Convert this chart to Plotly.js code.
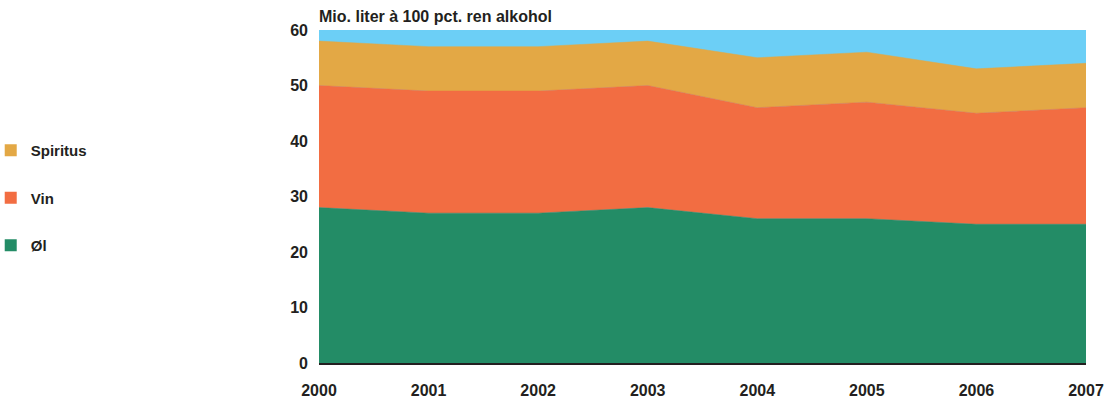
<!DOCTYPE html>
<html>
<head>
<meta charset="utf-8">
<script src="https://cdn.plot.ly/plotly-3.0.1.min.js"></script>
<style>html,body{margin:0;padding:0;background:#fff;}#chart{width:1115px;height:401px;}</style>
</head>
<body>
<div id="chart"></div>
<script>
const years = [2000, 2001, 2002, 2003, 2004, 2005, 2006, 2007];
const ol = [28, 27, 27, 28, 26, 26, 25, 25];
const vin = [22, 22, 22, 22, 20, 21, 20, 21];
const spiritus = [8, 8, 8, 8, 9, 9, 8, 8];
const yTicks = [0, 10, 20, 30, 40, 50, 60];
const seriesNames = ['Øl', 'Vin', 'Spiritus'];
const seriesColors = ['#238c66', '#f26d42', '#e3a845'];

const FONT = '"Liberation Sans Narrow", "Arial Narrow", "Liberation Sans", Arial, sans-serif';
const TXT = '#231f20';

function area(name, y, color) {
  return {
    x: years, y: y, name: name, type: 'scatter', mode: 'lines',
    stackgroup: 'one', fillcolor: color, line: {color: color, width: 0.5},
    showlegend: false, hoverinfo: 'skip'
  };
}
function legendEntry(name, color) {
  return {
    x: [null], y: [null], name: name, type: 'scatter', mode: 'markers',
    marker: {symbol: 'square', size: 12, color: color},
    legendgroup: name, showlegend: true, hoverinfo: 'skip'
  };
}
const values = [ol, vin, spiritus];
const data = [];
for (let i = 0; i < 3; i++) data.push(area(seriesNames[i], values[i], seriesColors[i]));
for (let i = 2; i >= 0; i--) data.push(legendEntry(seriesNames[i], seriesColors[i]));

const layout = {
  width: 1115, height: 401,
  margin: {l: 319, r: 29, t: 30, b: 38, autoexpand: false},
  paper_bgcolor: '#ffffff',
  plot_bgcolor: '#6ccff6',
  font: {family: FONT, color: TXT, size: 16, weight: 'bold'},
  showlegend: true,
  legend: {
    x: -0.428, xanchor: 'left', y: 0.688, yanchor: 'top',
    traceorder: 'grouped', tracegroupgap: 25,
    font: {family: FONT, size: 15, color: TXT, weight: 'bold'},
    itemwidth: 30, bgcolor: 'rgba(0,0,0,0)'
  },
  xaxis: {
    range: [2000, 2007], tickvals: years, ticktext: years.map(String),
    showgrid: false, zeroline: false, showline: true, linecolor: TXT, linewidth: 2,
    ticks: '', ticklabelstandoff: 12,
    tickfont: {family: FONT, size: 16, color: TXT, weight: 'bold'}
  },
  yaxis: {
    range: [0, 60], tickvals: yTicks, ticktext: yTicks.map(String),
    showgrid: false, zeroline: false, showline: false, ticks: '',
    ticklabelstandoff: 10,
    tickfont: {family: FONT, size: 16, color: TXT, weight: 'bold'}
  },
  annotations: [{
    text: 'Mio. liter à 100 pct. ren alkohol', xref: 'paper', yref: 'paper',
    x: 0, y: 1, xanchor: 'left', yanchor: 'bottom', yshift: 3, xshift: -2, showarrow: false,
    font: {family: FONT, size: 16, color: TXT, weight: 'bold'}
  }]
};
Plotly.newPlot('chart', data, layout, {displayModeBar: false, staticPlot: true});
</script>
</body>
</html>
